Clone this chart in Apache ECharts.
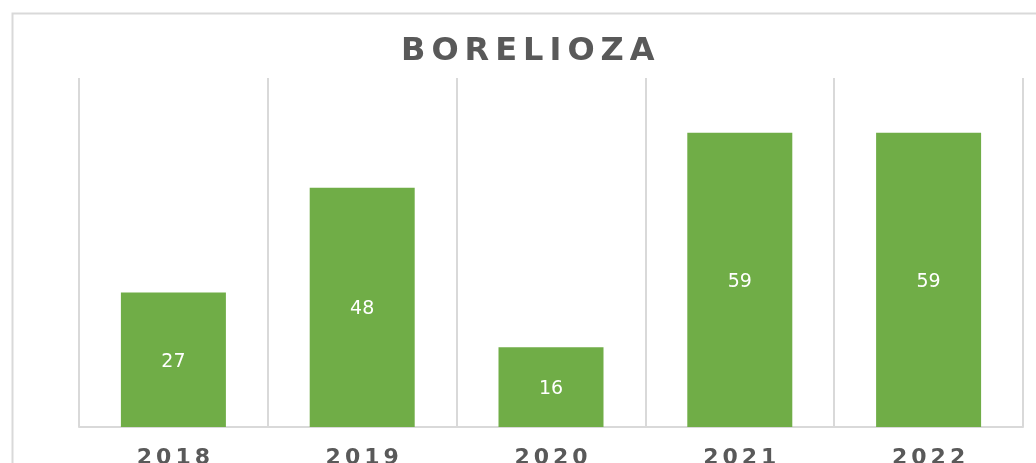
<!DOCTYPE html>
<html lang="en">
<head>
    <meta charset="UTF-8">
    <title>BORELIOZA</title>
    <script src="https://cdn.jsdelivr.net/npm/echarts@6/dist/echarts.min.js"></script>
    <style>
        html, body { margin: 0; padding: 0; background: #fff; }
    </style>
</head>
<body>
    <div id="main" style="width: 1036px; height: 463px;"></div>

    <script type="text/javascript">
        // dane
        var chartTitle = 'BORELIOZA';
        var years = ['2018', '2019', '2020', '2021', '2022'];
        var cases = [27, 48, 16, 59, 59];

        // rozstrzelone litery (jak w oryginale) - kazda litera osobno w rich text
        function spaced(str) {
            return str.split('').map(function (ch) { return '{c|' + ch + '}'; }).join('');
        }

        var myChart = echarts.init(document.getElementById('main'));
        var option = {
            animation: false,
            backgroundColor: '#fff',
            graphic: [{
                type: 'rect',
                left: 10,
                top: 11,
                shape: { width: 1100, height: 500 },
                style: { fill: 'none', stroke: '#d9d9d9', lineWidth: 2 },
                silent: true
            }],
            title: {
                text: spaced(chartTitle),
                left: 393,
                top: 31,
                textStyle: {
                    rich: {
                        c: {
                            fontFamily: 'DejaVu Sans',
                            fontWeight: 'bold',
                            fontSize: 32,
                            color: '#595959',
                            padding: [0, 3, 0, 3]
                        }
                    }
                }
            },
            grid: {
                left: 79,
                right: 13,
                top: 78,
                bottom: 36,
                outerBoundsMode: 'none'
            },
            xAxis: {
                type: 'category',
                data: years,
                axisTick: { show: false },
                axisLine: { lineStyle: { color: '#d9d9d9', width: 2 } },
                splitLine: { show: true, lineStyle: { color: '#d9d9d9', width: 2 } },
                axisLabel: {
                    margin: 20,
                    formatter: function (v) { return spaced(v); },
                    rich: {
                        c: {
                            fontFamily: 'DejaVu Sans',
                            fontWeight: 'bold',
                            fontSize: 22,
                            color: '#595959',
                            padding: [0, 2, 0, 2]
                        }
                    }
                }
            },
            yAxis: {
                type: 'value',
                min: 0,
                max: 70,
                show: false,
                splitLine: { show: false }
            },
            series: [{
                name: chartTitle,
                type: 'bar',
                data: cases,
                barWidth: 105,
                itemStyle: { color: '#70ad47' },
                label: {
                    show: true,
                    position: 'inside',
                    color: '#fff',
                    fontFamily: 'DejaVu Sans',
                    fontSize: 19,
                    offset: [0, 2]
                }
            }]
        };
        myChart.setOption(option);
    </script>
</body>
</html>
